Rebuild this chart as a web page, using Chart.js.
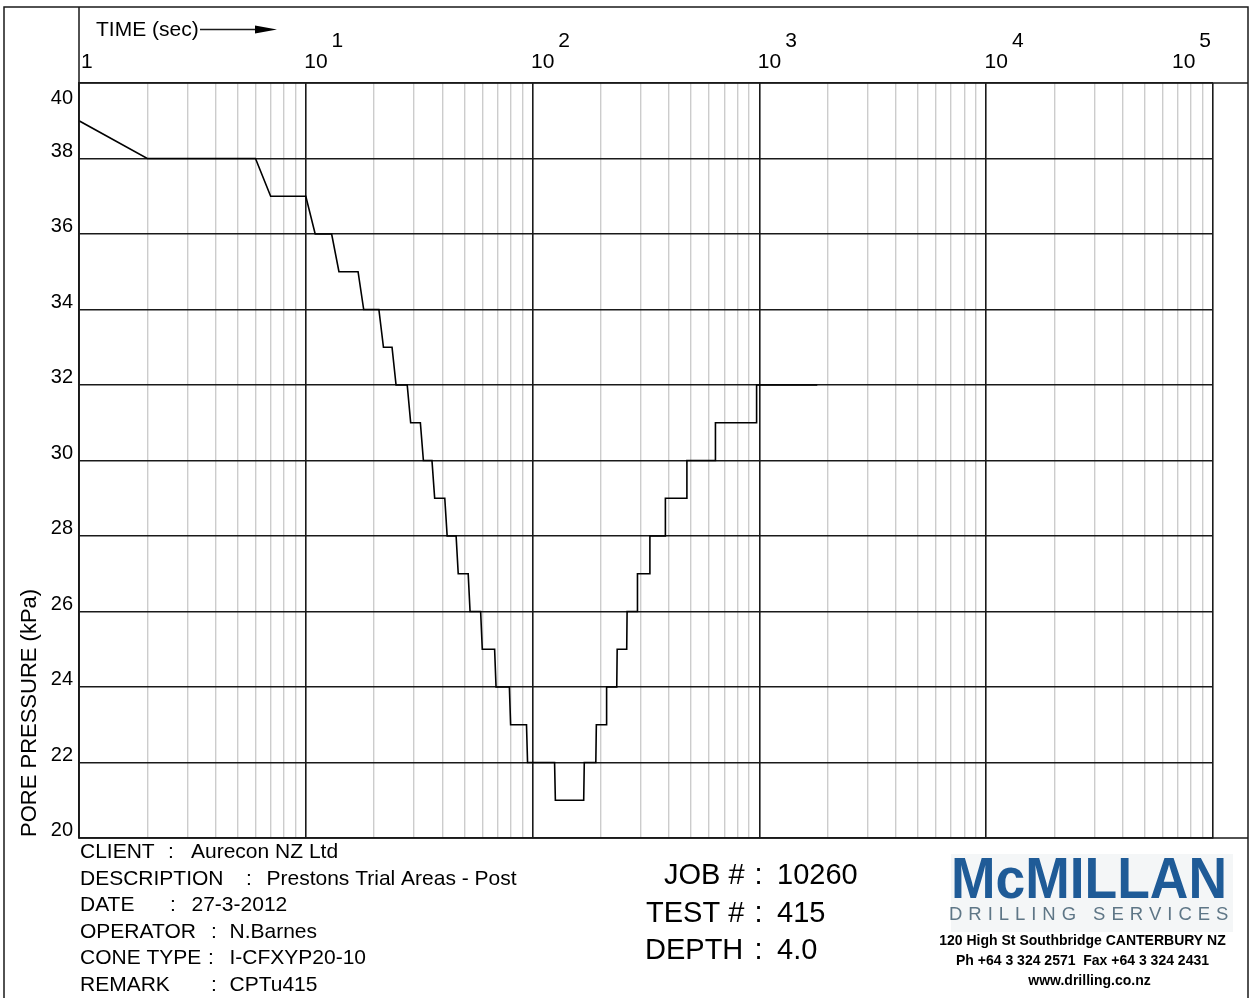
<!DOCTYPE html>
<html>
<head>
<meta charset="utf-8">
<title>Pore pressure dissipation</title>
<script src="https://cdn.jsdelivr.net/npm/chart.js@4.4.0/dist/chart.umd.min.js"></script>
<style>
  html, body { margin: 0; padding: 0; background: #fff; }
  canvas { display: block; }
</style>
</head>
<body>
<canvas id="graphCanvas" width="1255" height="998"></canvas>
<script>
// dissipation readings: elapsed time (sec) and pore pressure (kPa)
var times = [1, 2, 6, 7, 10, 11, 13, 14, 17, 18,
             21, 22, 24, 25, 28, 29, 32, 33, 36, 37,
             41, 42, 46, 47, 52, 53, 59, 60, 68, 69,
             79, 80, 94, 95, 125, 126, 168, 169, 190, 191,
             211, 212, 235, 236, 260, 261, 289, 290, 328, 329,
             384, 385, 478, 479, 639, 640, 968, 972, 1800];
var pressure = [39, 38, 38, 37, 37, 36, 36, 35, 35, 34,
                34, 33, 33, 32, 32, 31, 31, 30, 30, 29,
                29, 28, 28, 27, 27, 26, 26, 25, 25, 24,
                24, 23, 23, 22, 22, 21, 21, 22, 22, 23,
                23, 24, 24, 25, 25, 26, 26, 27, 27, 28,
                28, 29, 29, 30, 30, 31, 31, 32, 32];

var decades = [0, 1, 2, 3, 4, 5];          // powers of ten along the top
var yTicks = [20, 22, 24, 26, 28, 30, 32, 34, 36, 38, 40];

var infoLabels = ['CLIENT', 'DESCRIPTION', 'DATE', 'OPERATOR', 'CONE TYPE', 'REMARK'];
var infoValues = ['Aurecon NZ Ltd', 'Prestons Trial Areas - Post', '27-3-2012', 'N.Barnes', 'I-CFXYP20-10', 'CPTu415'];
var testLabels = ['JOB #', 'TEST #', 'DEPTH'];
var testValues = ['10260', '415', '4.0'];
var addressLines = ['120 High St Southbridge CANTERBURY NZ', 'Ph +64 3 324 2571  Fax +64 3 324 2431', 'www.drilling.co.nz'];

var FONT = '"Liberation Sans", Arial, sans-serif';
var dark = '#1a1a1a';
var light = '#cccccc';

// log grid: 1..9 in every decade plus the last decade line
var xGrid = [];
for (var e = 0; e < decades.length - 1; e++) {
  for (var m = 1; m <= 9; m++) xGrid.push(m * Math.pow(10, decades[e]));
}
xGrid.push(Math.pow(10, decades[decades.length - 1]));

function isDecade(v) {
  var l = Math.log10(v);
  return Math.abs(l - Math.round(l)) < 1e-9;
}

var points = [];
for (var i = 0; i < times.length; i++) {
  points.push({x: times[i], y: pressure[i]});
}

var sheet = {
  id: 'sheet',
  afterDraw: function(chart) {
    var c = chart.ctx;
    var xs = chart.scales.x, ys = chart.scales.y;
    var area = chart.chartArea;
    c.save();

    // frame (open at the bottom of the sheet)
    c.strokeStyle = dark;
    c.lineWidth = 1.5;
    c.beginPath();
    c.moveTo(4, 998); c.lineTo(4, 7); c.lineTo(1248, 7); c.lineTo(1248, 998);
    c.moveTo(area.left, 7); c.lineTo(area.left, area.bottom);
    c.moveTo(area.left, area.top); c.lineTo(1248, area.top);
    c.moveTo(area.left, area.bottom); c.lineTo(1248, area.bottom);
    c.stroke();

    c.fillStyle = '#000';
    c.textBaseline = 'alphabetic';

    // pressure ticks sit just above their line, top one below it
    c.font = '20px ' + FONT;
    c.textAlign = 'right';
    yTicks.forEach(function(v) {
      var py = ys.getPixelForValue(v);
      var base = (v === yTicks[yTicks.length - 1]) ? py + 21 : py - 2;
      c.fillText(String(v), 73, base);
    });

    // time ticks as powers of ten
    c.textAlign = 'left';
    c.font = '21px ' + FONT;
    var w10 = c.measureText('10').width;
    decades.forEach(function(p) {
      var px = xs.getPixelForValue(Math.pow(10, p));
      if (p === 0) {
        c.fillText('1', px + 2, 68);
        return;
      }
      var sup = String(p);
      var ws = c.measureText(sup).width;
      var left = px - 1.6;
      if (left + w10 + 4 + ws > area.right - 2) left = area.right - 2 - ws - 4 - w10;
      c.fillText('10', left, 68);
      c.fillText(sup, left + w10 + 4, 47);
    });

    // axis titles
    c.fillText('TIME (sec)', 96, 36);
    c.lineWidth = 1.5;
    c.beginPath();
    c.moveTo(200, 29.5); c.lineTo(258, 29.5);
    c.stroke();
    c.beginPath();
    c.moveTo(255, 25.5); c.lineTo(277, 29.5); c.lineTo(255, 33.5);
    c.closePath();
    c.fill();

    c.save();
    c.font = '22px ' + FONT;
    c.translate(36, 837);
    c.rotate(-Math.PI / 2);
    c.fillText('PORE PRESSURE (kPa)', 0, 0);
    c.restore();

    // test details
    c.font = '21px ' + FONT;
    var colonX = [168, 246, 170, 211, 208, 211];
    var valueX = [191, 266.5, 191.5, 229.5, 229.5, 229.5];
    infoLabels.forEach(function(lbl, k) {
      var base = 858 + k * 26.6;
      c.fillText(lbl, 80, base);
      c.fillText(':', colonX[k], base);
      c.fillText(infoValues[k], valueX[k], base);
    });

    c.font = '29px ' + FONT;
    var labelX = [664, 646, 645];
    testLabels.forEach(function(lbl, k) {
      var base = 884 + k * 37.5;
      c.fillText(lbl, labelX[k], base);
      c.fillText(':', 754.5, base);
      c.fillText(testValues[k], 777, base);
    });

    // company block
    c.fillStyle = '#f4f6f7';
    c.fillRect(951, 854, 282, 78);
    c.fillStyle = '#1f5b97';
    c.font = 'bold 57px ' + FONT;
    var wm = c.measureText('McMILLAN').width;
    c.save();
    c.translate(951, 898);
    c.scale(276 / wm, 1);
    c.fillText('McMILLAN', 0, 0);
    c.restore();

    c.fillStyle = '#5e7686';
    c.font = '18.5px ' + FONT;
    var sub = 'DRILLING SERVICES';
    var nat = c.measureText(sub).width;
    var gap = (279 - nat) / (sub.length - 1);
    var cx = 949;
    for (var j = 0; j < sub.length; j++) {
      c.fillText(sub[j], cx, 920);
      cx += c.measureText(sub[j]).width + gap;
    }

    c.fillStyle = '#000';
    c.font = 'bold 14px ' + FONT;
    c.textAlign = 'center';
    c.fillText(addressLines[0], 1082.5, 945);
    c.fillText(addressLines[1], 1082.5, 965);
    c.fillText(addressLines[2], 1089.5, 985);

    c.restore();
  }
};

var canvas = document.getElementById('graphCanvas').getContext('2d');

var chart = new Chart(canvas, {
  type: 'line',
  data: {
    datasets: [{
      label: 'Pore pressure',
      data: points,
      borderColor: '#000',
      borderWidth: 1.6,
      pointRadius: 0,
      tension: 0,
      fill: false
    }]
  },
  options: {
    responsive: false,
    animation: false,
    devicePixelRatio: 1,
    layout: { padding: { left: 79, top: 83, right: 42, bottom: 160 } },
    plugins: { legend: { display: false }, tooltip: { enabled: false } },
    scales: {
      x: {
        type: 'logarithmic',
        min: 1,
        max: 100000,
        afterBuildTicks: function(scale) {
          scale.ticks = xGrid.map(function(v) { return {value: v, major: isDecade(v)}; });
        },
        ticks: { display: false },
        grid: {
          drawTicks: false,
          color: function(ctx) { return isDecade(ctx.tick.value) ? dark : light; },
          lineWidth: function(ctx) { return isDecade(ctx.tick.value) ? 1.6 : 1.4; }
        },
        border: { display: true, color: dark, width: 1.6 }
      },
      y: {
        min: 20,
        max: 40,
        afterBuildTicks: function(scale) {
          scale.ticks = yTicks.map(function(v) { return {value: v}; });
        },
        ticks: { display: false },
        grid: { drawTicks: false, color: dark, lineWidth: 1.6 },
        border: { display: true, color: dark, width: 1.6 }
      }
    }
  },
  plugins: [sheet]
});
</script>
</body>
</html>
